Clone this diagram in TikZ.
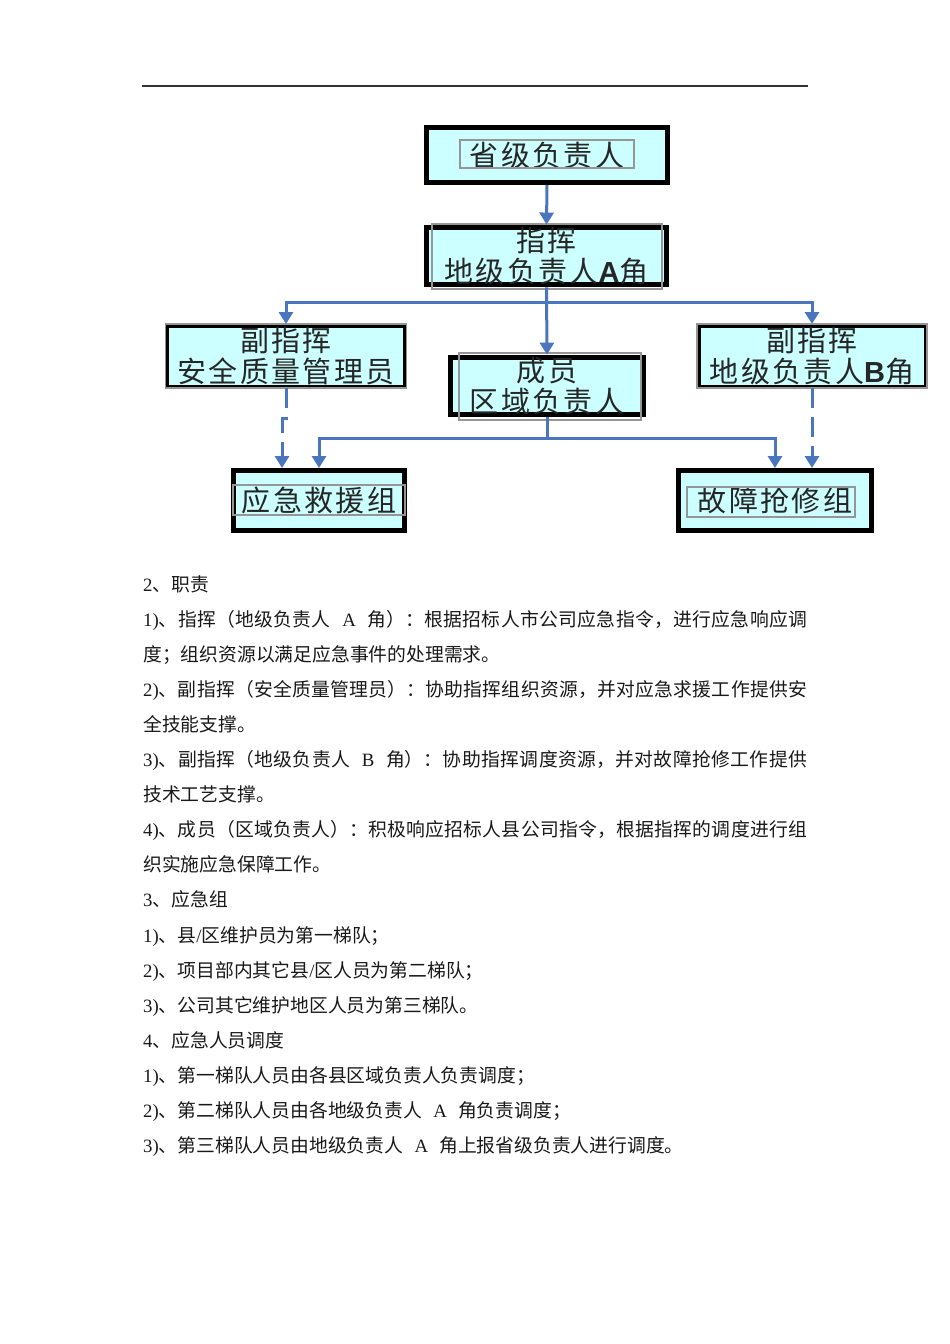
\documentclass[tikz,border=0pt]{standalone}
\usepackage{fontspec}
\setmainfont{Liberation Serif}
\newfontfamily\cjk{Noto Sans CJK SC}
\newfontfamily\cjkbox[LetterSpace=8]{Noto Sans CJK SC}
\newfontfamily\lsans{Liberation Sans}
\usetikzlibrary{arrows.meta}
\definecolor{boxfill}{RGB}{204,255,255}
\definecolor{linkblue}{RGB}{74,118,192}
\definecolor{framegray}{RGB}{150,150,150}
\definecolor{textc}{RGB}{25,25,25}
\newcommand\zhsetup{\XeTeXlinebreaklocale "zh"\XeTeXlinebreakskip=0pt plus 2pt minus 0.5pt\relax\parindent=0pt\parskip=0pt\relax}
\newcommand\tm[1]{{\rmfamily #1}}
\newcommand\latw[1]{\hskip 0.6em plus 2pt minus 1pt{\rmfamily #1}\hskip 0.6em plus 2pt minus 1pt}
\newcommand\lb[1]{{\lsans\bfseries #1}}
\tikzset{
  bx/.style={draw=black, fill=boxfill, inner sep=0pt, align=center,
    font=\cjkbox\fontsize{29}{31}\selectfont, text=black!85},
  gbox/.style={draw=framegray, line width=1.5pt, inner sep=0pt},
  arr/.style={draw=linkblue, line width=3pt, -{Triangle[width=14pt,length=12pt]}},
  darr/.style={arr, dash pattern=on 20pt off 9pt},
  link/.style={draw=linkblue, line width=3pt},
  txt/.style={inner sep=0pt, text width=664pt, align=justify, text=textc,
    font=\cjk\fontsize{18.8}{35.06}\selectfont\zhsetup}
}
\begin{document}
\begin{tikzpicture}[x=1pt,y=-1pt]
\useasboundingbox (0,0) rectangle (950,1344);
% top rule
\coordinate (rl) at (142,86);
\coordinate (rr) at (808,86);
\draw[line width=1.2pt, black!80] (rl) -- (rr);

% boxes
\node[bx, line width=5pt, minimum width=241pt, minimum height=55pt] (b1) at (547,155) {省级负责人};
\node[bx, line width=5pt, minimum width=240pt, minimum height=57pt] (b2) at (546.5,256) {指挥\\地级负责人\lb{A}角};
\node[bx, line width=3.5pt, minimum width=237.5pt, minimum height=60.5pt] (b3) at (286,356) {副指挥\\安全质量管理员};
\node[bx, line width=5pt, minimum width=193pt, minimum height=57pt] (b4) at (547,386) {成员\\区域负责人};
\node[bx, line width=3.5pt, minimum width=226.5pt, minimum height=60.5pt] (b5) at (812,356) {副指挥\\地级负责人\lb{B}角};
\node[bx, line width=5pt, minimum width=171pt, minimum height=60pt] (b6) at (319,500.5) {应急救援组};
\node[bx, line width=5pt, minimum width=193pt, minimum height=60pt] (b7) at (775,500.5) {故障抢修组};

% inner gray frames
\node[gbox, minimum width=174pt, minimum height=28pt] (g1) at (547,154) {};
\node[gbox, minimum width=230pt, minimum height=65pt] (g2) at (547,256.5) {};
\node[gbox, minimum width=241pt, minimum height=64pt] (g3) at (286,356) {};
\node[gbox, minimum width=182pt, minimum height=67pt] (g4) at (550,386.5) {};
\node[gbox, minimum width=230pt, minimum height=64pt] (g5) at (812,356) {};
\node[gbox, minimum width=172pt, minimum height=30pt] (g6) at (319,500) {};
\node[gbox, minimum width=168pt, minimum height=30pt] (g7) at (771,502) {};

% connectors
\coordinate (j1) at (547,302);
\coordinate (j2) at (547,438);
\draw[arr] (b1.south) -- (b2.north);
\draw[arr] (b2.south) -- (b4.north);
\draw[arr] (j1) -| (b3.north);
\draw[arr] (j1) -| (b5.north);
\draw[link] (b4.south) -- (j2);
\draw[arr] (j2) -| (b6.north);
\draw[arr] (j2) -| (b7.north);
\coordinate (dj) at (286,418);
\draw[darr] (b3.south) -- (dj) -- ++(-4,0) -- ([xshift=-37pt]b6.north);
\draw[darr] (b5.south) -- ([xshift=37pt]b7.north);

% body text
\node[txt, anchor=north west] (body) at (143,571.2) {%
\rule{0pt}{20pt}\tm{2}、职责\par
\tm{1)}、指挥（地级负责人\latw{A}角）：根据招标人市公司应急指令，进行应急响应调\linebreak 度；组织资源以满足应急事件的处理需求。\par
\tm{2)}、副指挥（安全质量管理员）：协助指挥组织资源，并对应急求援工作提供安\linebreak 全技能支撑。\par
\tm{3)}、副指挥（地级负责人\latw{B}角）：协助指挥调度资源，并对故障抢修工作提供\linebreak 技术工艺支撑。\par
\tm{4)}、成员（区域负责人）：积极响应招标人县公司指令，根据指挥的调度进行组\linebreak 织实施应急保障工作。\par
\tm{3}、应急组\par
\tm{1)}、县\tm{/}区维护员为第一梯队；\par
\tm{2)}、项目部内其它县\tm{/}区人员为第二梯队；\par
\tm{3)}、公司其它维护地区人员为第三梯队。\par
\tm{4}、应急人员调度\par
\tm{1)}、第一梯队人员由各县区域负责人负责调度；\par
\tm{2)}、第二梯队人员由各地级负责人\latw{A}角负责调度；\par
\tm{3)}、第三梯队人员由地级负责人\latw{A}角上报省级负责人进行调度。\par
};
\end{tikzpicture}
\end{document}
